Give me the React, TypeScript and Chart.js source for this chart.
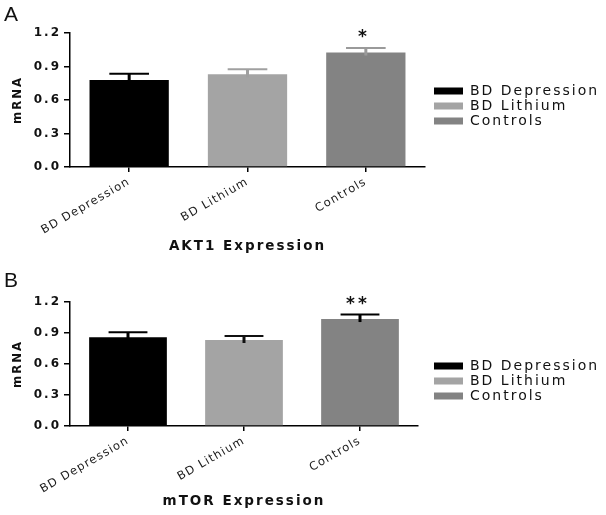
import React, { useEffect, useRef } from 'react';
import { Chart, registerables } from 'chart.js';

Chart.register(...registerables);

// ---- data ----
const categories = ['BD Depression', 'BD Lithium', 'Controls'];
const barColors = ['#000000', '#a4a4a4', '#838383'];
const yTickValues = [0, 0.3, 0.6, 0.9, 1.2];

const akt1Means = [0.78, 0.83, 1.025];
const akt1Errors = [0.055, 0.045, 0.04];
const akt1ErrorColors = ['#000000', '#a0a0a0', '#9a9a9a'];
const akt1Stars = ['', '', '*'];

const mtorMeans = [0.86, 0.832, 1.035];
const mtorErrors = [0.048, 0.04, 0.043];
const mtorErrorColors = ['#000000', '#111111', '#000000'];
const mtorStars = ['', '', '**'];

type PanelCfg = {
  letter: string;
  title: string;
  means: number[];
  errors: number[];
  errorColors: string[];
  stars: string[];
  height: number;
  padTop: number;
  padRight: number;
  xHeight: number;
  letterY: number;
  legendY: number;
};

const panels: PanelCfg[] = [
  {
    letter: 'A', title: 'AKT1 Expression', means: akt1Means, errors: akt1Errors,
    errorColors: akt1ErrorColors, stars: akt1Stars,
    height: 260, padTop: 33, padRight: 181, xHeight: 93, letterY: 15, legendY: 91,
  },
  {
    letter: 'B', title: 'mTOR Expression', means: mtorMeans, errors: mtorErrors,
    errorColors: mtorErrorColors, stars: mtorStars,
    height: 255, padTop: 42, padRight: 188, xHeight: 89, letterY: 21, legendY: 106,
  },
];

const SPACING = '2px';

function makeChart(canvas: HTMLCanvasElement, cfg: PanelCfg) {
  const decor = {
    id: 'decor',
    beforeUpdate(chart: any) { chart.ctx.letterSpacing = SPACING; },
    beforeLayout(chart: any) { chart.ctx.letterSpacing = SPACING; },
    beforeDraw(chart: any) {
      const ctx = chart.ctx;
      ctx.letterSpacing = SPACING;
      const xs = chart.scales.x;
      if (xs && !xs._lsPatched) {
        const orig = xs.drawLabels.bind(xs);
        xs.drawLabels = (area: any) => {
          ctx.letterSpacing = '1.2px';
          orig(area);
          ctx.letterSpacing = SPACING;
        };
        xs._lsPatched = true;
      }
    },
    afterDatasetsDraw(chart: any) {
      const ctx = chart.ctx;
      const meta = chart.getDatasetMeta(0);
      const y = chart.scales.y;
      meta.data.forEach((bar: any, i: number) => {
        const top = y.getPixelForValue(cfg.means[i] + cfg.errors[i]);
        const half = bar.width / 4;
        ctx.save();
        ctx.strokeStyle = cfg.errorColors[i];
        ctx.lineWidth = 3;
        ctx.beginPath();
        ctx.moveTo(bar.x, bar.y + 3);
        ctx.lineTo(bar.x, top);
        ctx.stroke();
        ctx.lineWidth = 2;
        ctx.beginPath();
        ctx.moveTo(bar.x - half, top);
        ctx.lineTo(bar.x + half, top);
        ctx.stroke();
        if (cfg.stars[i]) {
          ctx.letterSpacing = '3px';
          ctx.font = 'bold 17px "DejaVu Sans"';
          ctx.fillStyle = '#111';
          ctx.textAlign = 'center';
          ctx.textBaseline = 'middle';
          ctx.fillText(cfg.stars[i], bar.x - 2, top - 10);
        }
        ctx.restore();
      });
    },
    afterDraw(chart: any) {
      const ctx = chart.ctx;
      ctx.save();
      // legend
      ctx.letterSpacing = SPACING;
      ctx.font = '14px "DejaVu Sans"';
      ctx.textAlign = 'left';
      ctx.textBaseline = 'middle';
      categories.forEach((c, i) => {
        const yy = cfg.legendY + i * 15;
        ctx.fillStyle = barColors[i];
        ctx.fillRect(434, yy - 3.5, 29, 7);
        ctx.fillStyle = '#111';
        ctx.fillText(c, 470, yy);
      });
      // panel letter
      ctx.letterSpacing = '0px';
      ctx.font = '21px "Liberation Sans"';
      ctx.fillStyle = '#111';
      ctx.fillText(cfg.letter, 4, cfg.letterY);
      ctx.restore();
    },
  };

  return new Chart(canvas, {
    type: 'bar',
    data: {
      labels: categories,
      datasets: [{
        data: cfg.means,
        backgroundColor: barColors,
        borderWidth: 0,
        categoryPercentage: 1,
        barPercentage: 0.67,
      }],
    },
    options: {
      responsive: false,
      animation: false,
      layout: { padding: { top: cfg.padTop, right: cfg.padRight, left: 0, bottom: 0 } },
      plugins: { legend: { display: false }, tooltip: { enabled: false }, title: { display: false } },
      scales: {
        x: {
          grid: { display: true, offset: false, drawOnChartArea: false, drawTicks: true, tickLength: 5, color: '#000', lineWidth: 1.5 },
          border: { display: true, color: '#000', width: 1.5 },
          ticks: {
            minRotation: 30, maxRotation: 30, padding: 3, color: '#1a1a1a',
            font: { family: '"DejaVu Sans"', size: 11.5 },
          },
          title: {
            display: true, text: cfg.title, color: '#111',
            font: { family: '"DejaVu Sans"', size: 13.5, weight: 'bold' },
            padding: { top: 0, bottom: 5 },
          },
          afterFit: (s: any) => { s.height = cfg.xHeight; },
        } as any,
        y: {
          min: 0, max: 1.2,
          grid: { display: true, drawOnChartArea: false, drawTicks: true, tickLength: 6, color: '#000', lineWidth: 1.5 },
          border: { display: true, color: '#000', width: 1.5 },
          ticks: {
            color: '#111', padding: 3,
            font: { family: '"DejaVu Sans"', size: 12, weight: 'bold' },
            callback: (v: any) => Number(v).toFixed(1),
          },
          afterBuildTicks: (s: any) => { s.ticks = yTickValues.map((v) => ({ value: v })); },
          title: {
            display: true, text: 'mRNA', color: '#111',
            font: { family: '"Liberation Sans Narrow", "DejaVu Sans Condensed", "Liberation Sans"', size: 13, weight: 'bold' },
            padding: { top: 10, bottom: 0 },
          },
          afterFit: (s: any) => { s.width = 70; },
        } as any,
      },
    },
    plugins: [decor],
  } as any);
}

function Panel({ cfg, top }: { cfg: PanelCfg; top: number }) {
  const ref = useRef<HTMLCanvasElement>(null);
  useEffect(() => {
    if (!ref.current) return;
    const chart = makeChart(ref.current, cfg);
    return () => chart.destroy();
  }, [cfg]);
  return (
    <canvas
      ref={ref}
      width={606}
      height={cfg.height}
      style={{ position: 'absolute', left: 0, top, width: 606, height: cfg.height, display: 'block' }}
    />
  );
}

export default function App() {
  return (
    <div style={{ position: 'absolute', left: 0, top: 0, width: 606, height: 515, background: '#fff' }}>
      <Panel cfg={panels[0]} top={0} />
      <Panel cfg={panels[1]} top={260} />
    </div>
  );
}
